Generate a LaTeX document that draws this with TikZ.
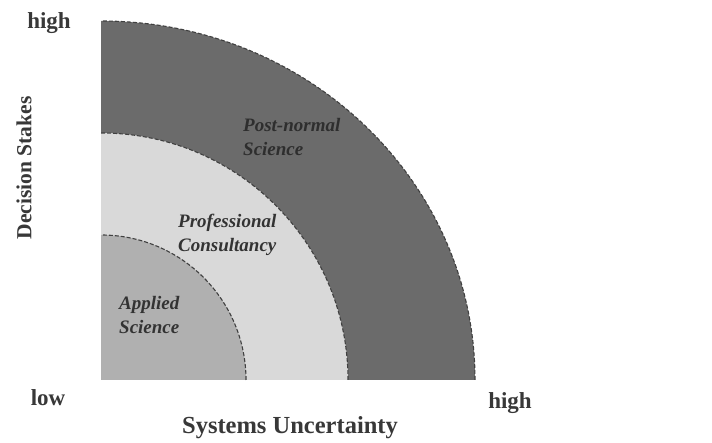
\documentclass[tikz,border=0pt]{standalone}
\usepackage{fontspec}
\setmainfont{Liberation Serif}
\begin{document}
\begin{tikzpicture}[x=1pt,y=1pt,
  axislabel/.style={font=\fontsize{23}{25}\selectfont\bfseries, text=black!78, inner sep=0pt},
  zonelabel/.style={font=\fontsize{19}{24.5}\selectfont\bfseries\itshape, text=black!80, align=left, inner sep=0pt},
  zoneedge/.style={draw=black!75, line width=1.1pt, dash pattern=on 4pt off 2pt}
]
\useasboundingbox[fill=white] (0,0) rectangle (712,443);
\coordinate (O) at (101,63);

% nested quarter discs
\fill[black!58] (O) -- ++(374,0) arc[start angle=0, end angle=90, x radius=374, y radius=359] -- cycle;
\fill[black!15] (O) -- ++(247,0) arc[start angle=0, end angle=90, radius=247] -- cycle;
\fill[black!31] (O) -- ++(145,0) arc[start angle=0, end angle=90, radius=145] -- cycle;

% dashed boundaries of the zones
\draw[zoneedge] (O) ++(374,0) arc[start angle=0, end angle=90, x radius=374, y radius=359];
\draw[zoneedge] (O) ++(247,0) arc[start angle=0, end angle=90, radius=247];
\draw[zoneedge] (O) ++(145,0) arc[start angle=0, end angle=90, radius=145];

% zone labels
\node[zonelabel, anchor=west, text=black!82] (pns) at (243,306) {Post-normal\\Science};
\node[zonelabel, anchor=west] (pc) at (178,208) {Professional\\Consultancy};
\node[zonelabel, anchor=west] (as) at (119,128) {Applied\\Science};

% axes
\node[axislabel] (yhigh) at (49,420) {high};
\node[axislabel] (xlow) at (48,45) {low};
\node[axislabel] (xhigh) at (510,40) {high};
\node[axislabel, font=\fontsize{24.5}{26}\selectfont\bfseries] (xlab) at (290,15) {Systems Uncertainty};
\node[axislabel, font=\fontsize{21.5}{24}\selectfont\bfseries, rotate=90] (ylab) at (24,275) {Decision Stakes};
\end{tikzpicture}
\end{document}
